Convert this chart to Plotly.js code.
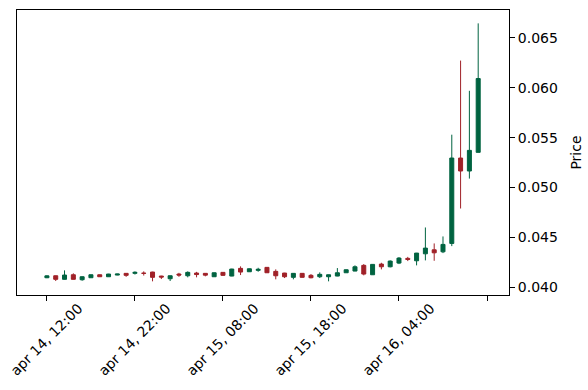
<!DOCTYPE html>
<html>
<head>
<meta charset="utf-8">
<script src="https://cdn.plot.ly/plotly-3.0.1.min.js"></script>
<style>html,body{margin:0;padding:0;background:#fff;}#chart{width:588px;height:390px;}</style>
</head>
<body>
<div id="chart"></div>
<script>
// Hourly candles, apr 14 12:00 .. apr 16 13:00
const opens  = [0.04096,0.04116,0.04080,0.04126,0.04076,0.04096,0.04126,0.04106,0.04123,0.04140,
                0.04140,0.04142,0.04153,0.04113,0.04086,0.04133,0.04116,0.04143,0.04140,0.04106,
                0.04150,0.04113,0.04190,0.04156,0.04170,0.04200,0.04160,0.04143,0.04100,0.04140,
                0.04120,0.04106,0.04106,0.04113,0.04146,0.04163,0.04220,0.04126,0.04233,0.04206,
                0.04243,0.04290,0.04266,0.04336,0.04376,0.04356,0.04440,0.05296,0.05166,0.05353];
const highs  = [0.04120,0.04118,0.04170,0.04140,0.04110,0.04128,0.04128,0.04135,0.04135,0.04143,
                0.04160,0.04160,0.04156,0.04116,0.04118,0.04145,0.04160,0.04155,0.04143,0.04148,
                0.04152,0.04186,0.04210,0.04188,0.04196,0.04202,0.04180,0.04145,0.04142,0.04142,
                0.04133,0.04150,0.04128,0.04193,0.04178,0.04220,0.04233,0.04232,0.04246,0.04270,
                0.04303,0.04305,0.04345,0.04600,0.04440,0.04510,0.05530,0.06273,0.05970,0.06646];
const lows   = [0.04092,0.04063,0.04078,0.04078,0.04066,0.04094,0.04104,0.04104,0.04121,0.04105,
                0.04128,0.04118,0.04060,0.04083,0.04063,0.04105,0.04100,0.04100,0.04110,0.04104,
                0.04115,0.04111,0.04123,0.04154,0.04156,0.04144,0.04080,0.04093,0.04080,0.04098,
                0.04090,0.04093,0.04060,0.04111,0.04144,0.04161,0.04120,0.04124,0.04180,0.04200,
                0.04233,0.04263,0.04220,0.04270,0.04266,0.04343,0.04413,0.04790,0.05090,0.05353];
const closes = [0.04115,0.04080,0.04123,0.04080,0.04106,0.04126,0.04106,0.04133,0.04133,0.04120,
                0.04150,0.04140,0.04100,0.04103,0.04116,0.04123,0.04150,0.04128,0.04122,0.04146,
                0.04120,0.04183,0.04153,0.04186,0.04180,0.04146,0.04116,0.04106,0.04140,0.04100,
                0.04096,0.04130,0.04126,0.04146,0.04176,0.04206,0.04133,0.04230,0.04206,0.04263,
                0.04293,0.04280,0.04343,0.04393,0.04346,0.04430,0.05296,0.05166,0.05373,0.06093];
const tickIdx = [0, 10, 20, 30, 40, 50];
const tickLabels = ["apr 14, 12:00","apr 14, 22:00","apr 15, 08:00","apr 15, 18:00","apr 16, 04:00",""];
const yTicks = [0.040,0.045,0.050,0.055,0.060,0.065];

const idx = opens.map((_, i) => i);
const green = "#006340", red = "#a02128";

const trace = {
  type: "candlestick",
  x: idx, open: opens, high: highs, low: lows, close: closes,
  increasing: {line: {color: green, width: 1}, fillcolor: green},
  decreasing: {line: {color: red, width: 1}, fillcolor: red},
  whiskerwidth: 0,
  hoverinfo: "skip"
};

const font = {family: "DejaVu Sans", size: 14, color: "#000"};

// rotated tick labels centred on their ticks (matplotlib style)
const labelAnns = tickIdx.map((v, i) => ({
  x: v, xref: "x", y: -0.155, yref: "paper",
  text: tickLabels[i], showarrow: false, textangle: -45,
  xanchor: "center", yanchor: "middle", font: font
})).filter(a => a.text !== "");

const layout = {
  width: 588, height: 390,
  margin: {l: 17, r: 79, t: 10, b: 95},
  paper_bgcolor: "#fff", plot_bgcolor: "#fff",
  showlegend: false,
  font: font,
  boxgap: 0.35,
  annotations: labelAnns,
  xaxis: {
    type: "linear", range: [-3.4, 52.5],
    rangeslider: {visible: false},
    tickmode: "array", tickvals: tickIdx, showticklabels: false,
    ticks: "outside", ticklen: 5, tickcolor: "#000", tickwidth: 1,
    showline: true, linecolor: "#000", linewidth: 1, mirror: true,
    showgrid: false, zeroline: false
  },
  yaxis: {
    side: "right", range: [0.03923, 0.0678],
    tickmode: "array", tickvals: yTicks, ticktext: yTicks.map(v => v.toFixed(3)),
    ticks: "outside", ticklen: 5, tickcolor: "#000", tickwidth: 1,
    showline: true, linecolor: "#000", linewidth: 1, mirror: true,
    showgrid: false, zeroline: false, tickfont: font,
    title: {text: "Price", font: font, standoff: 14}
  }
};

Plotly.newPlot("chart", [trace], layout, {staticPlot: true, displayModeBar: false});
</script>
</body>
</html>
